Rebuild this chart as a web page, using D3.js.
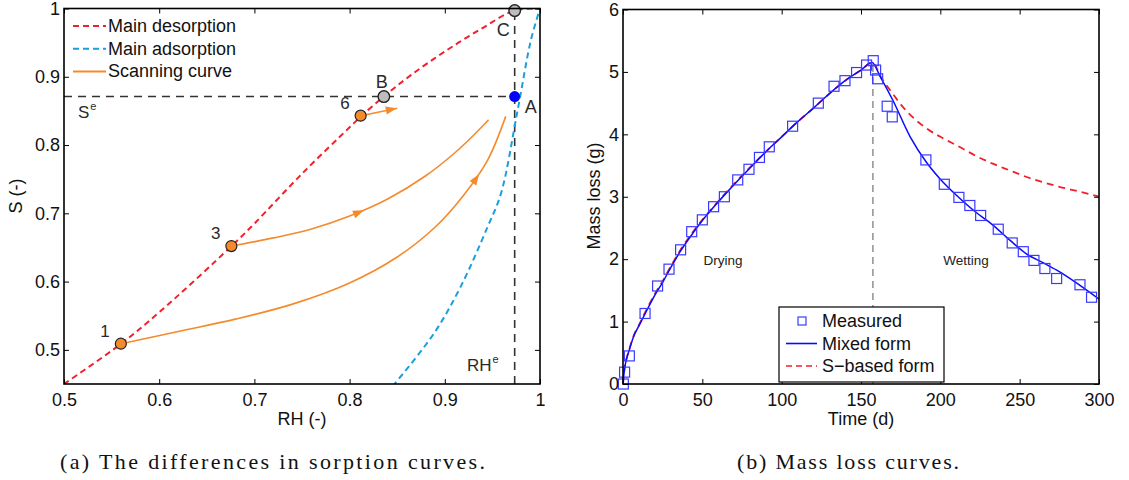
<!DOCTYPE html>
<html><head><meta charset="utf-8">
<script src="https://cdn.jsdelivr.net/npm/d3@7"></script>
<style>
body{margin:0;background:#fff;}
svg{display:block;}
</style></head>
<body>
<svg id="chart" width="1129" height="480" font-family="Liberation Sans, Arial, sans-serif"></svg>
<script>
// ---------- Panel (a) data ----------
const desorpRH = [0.5,0.56,0.6,0.676,0.7,0.75,0.8,0.812,0.836,0.864,0.9,0.938,0.9734,1.0];
const desorpS  = [0.45,0.509,0.555,0.652,0.685,0.758,0.826,0.842,0.871,0.902,0.937,0.970,0.997,1.0];
const adsorpRH = [0.845,0.8477,0.8888,0.9168,0.9449,0.959,0.9765,0.9905,1.0];
const adsorpS  = [0.447,0.451,0.5245,0.593,0.680,0.729,0.851,0.954,1.0];
const scan1RH = [0.56,0.62,0.68,0.74,0.80,0.85,0.89,0.92,0.945,0.964];
const scan1S  = [0.509,0.527,0.545,0.567,0.598,0.636,0.680,0.727,0.778,0.842];
const scan3RH = [0.676,0.72,0.76,0.80,0.84,0.88,0.91,0.93,0.946];
const scan3S  = [0.652,0.664,0.677,0.696,0.721,0.755,0.788,0.814,0.837];
const scan6RH = [0.812,0.850];
const scan6S  = [0.843,0.854];
const arrowRH = [0.936,0.815,0.850];
const orangePtsRH = [0.5597,0.6758,0.8116];
const orangePtsS  = [0.509,0.652,0.843];
const orangeLabels = ["1","3","6"];
const grayPtsRH = [0.836,0.9734];
const grayPtsS  = [0.871,0.997];
const eqRH = 0.9734, eqS = 0.871;
const rhTicks = [0.5,0.6,0.7,0.8,0.9,1.0];
const rhTickLabels = ["0.5","0.6","0.7","0.8","0.9","1"];
const sTicks = [0.5,0.6,0.7,0.8,0.9,1.0];
const sTickLabels = ["0.5","0.6","0.7","0.8","0.9","1"];
const legendA = ["Main desorption","Main adsorption","Scanning curve"];

// ---------- Panel (b) data ----------
const measT = [0.2,1,4,13.9,21.8,29,36.3,43.3,50,57.1,63.9,72.3,79.4,86,92.2,106.9,123.1,133,139.9,147.2,153.5,157.7,159.2,160.5,166.5,169.7,190.9,202.5,211.7,218.6,225.4,236.5,245.3,252.3,259,265.9,273.3,288,295.3];
const measM = [0,0.19,0.45,1.13,1.57,1.84,2.15,2.44,2.63,2.84,3.0,3.27,3.44,3.63,3.80,4.13,4.50,4.77,4.86,4.99,5.11,5.18,5.03,4.89,4.45,4.28,3.59,3.20,2.99,2.86,2.70,2.48,2.26,2.12,1.98,1.85,1.69,1.59,1.39];
const mixedT = [0,1,2,4,7,10,14,20,25,30,36,43,50,57,64,72,80,90,100,110,120,130,140,150,157,162,170,181,191,200,212,222,233,244,254,265,275,288,300];
const mixedM = [0,0.25,0.38,0.55,0.78,0.93,1.13,1.42,1.63,1.86,2.12,2.38,2.62,2.83,3.03,3.25,3.46,3.72,3.96,4.2,4.42,4.65,4.86,5.03,5.15,4.93,4.55,3.96,3.56,3.28,2.98,2.76,2.55,2.3,2.09,1.94,1.80,1.58,1.36];
const sbasedT = [0,1,2,4,7,10,14,20,25,30,36,43,50,57,64,72,80,90,100,110,120,130,140,150,157,163,170,177,185,191,200,212,222,233,244,254,265,275,288,300];
const sbasedM = [0,0.25,0.38,0.56,0.79,0.94,1.15,1.44,1.65,1.88,2.14,2.40,2.63,2.84,3.04,3.26,3.47,3.72,3.96,4.2,4.42,4.65,4.86,5.03,5.15,4.90,4.65,4.42,4.22,4.10,3.96,3.80,3.66,3.53,3.42,3.32,3.23,3.16,3.08,3.0];
const switchT = 157.5, switchTop = 5.15;
const tTicks = [0,50,100,150,200,250,300];
const tTickLabels = ["0","50","100","150","200","250","300"];
const mTicks = [0,1,2,3,4,5,6];
const mTickLabels = ["0","1","2","3","4","5","6"];
const legendB = ["Measured","Mixed form","S\u2212based form"];

const captions = ["(a)  The differences in sorption curves.","(b)  Mass loss curves."];

// ---------- colours ----------
const RED = "#f0202c", CYAN = "#1a9fdc", ORANGE = "#f58a2c", BLUE = "#0a0aff", SQ = "#3a3aff";

const svg = d3.select("#chart");
const FS = 18;

function drawAxes(g, x, y, xt, xtl, yt, ytl){
  const [x0,x1] = x.range(), [y0,y1] = y.range();
  const fmtX = d => xtl[xt.indexOf(d)], fmtY = d => ytl[yt.indexOf(d)];
  const ax = g.append("g").attr("transform",`translate(0,${y0})`)
    .call(d3.axisBottom(x).tickValues(xt).tickFormat(fmtX).tickSize(-5).tickSizeOuter(0).tickPadding(9));
  const axT = g.append("g").attr("transform",`translate(0,${y1})`)
    .call(d3.axisTop(x).tickValues(xt).tickFormat("").tickSize(-5).tickSizeOuter(0));
  const ay = g.append("g").attr("transform",`translate(${x0},0)`)
    .call(d3.axisLeft(y).tickValues(yt).tickFormat(fmtY).tickSize(-5).tickSizeOuter(0).tickPadding(4));
  const ayR = g.append("g").attr("transform",`translate(${x1},0)`)
    .call(d3.axisRight(y).tickValues(yt).tickFormat("").tickSize(-5).tickSizeOuter(0));
  [ax,axT,ay,ayR].forEach(a=>{
    a.select(".domain").remove();
    a.selectAll(".tick line").attr("stroke","#000").attr("stroke-width",1);
    a.selectAll("text").attr("font-size",FS).attr("fill","#111").attr("font-family","Liberation Sans, Arial, sans-serif");
  });
  g.append("rect").attr("x",x0).attr("y",y1).attr("width",x1-x0).attr("height",y0-y1)
    .attr("fill","none").attr("stroke","#000").attr("stroke-width",1.6);
}

// ================= Panel (a) =================
const xa = d3.scaleLinear().domain([0.5,1]).range([64,540]);
const ya = d3.scaleLinear().domain([0.45,1]).range([384,8.5]);
const ga = svg.append("g");
svg.append("defs").append("clipPath").attr("id","clipA").append("rect")
  .attr("x",64).attr("y",8.5).attr("width",476).attr("height",375.5);
const pa = ga.append("g").attr("clip-path","url(#clipA)");
const lineA = d3.line().x(d=>xa(d[0])).y(d=>ya(d[1])).curve(d3.curveCatmullRom.alpha(0.5));

// equilibrium dashed lines
pa.append("line").attr("x1",xa(0.5)).attr("x2",xa(eqRH)+8).attr("y1",ya(eqS)).attr("y2",ya(eqS))
  .attr("stroke","#333").attr("stroke-width",1.4).attr("stroke-dasharray","8,6");
pa.append("line").attr("x1",xa(eqRH)).attr("x2",xa(eqRH)).attr("y1",ya(0.45)).attr("y2",ya(0.997))
  .attr("stroke","#333").attr("stroke-width",1.6).attr("stroke-dasharray","8,6");

pa.append("path").attr("d",lineA(d3.zip(desorpRH,desorpS))).attr("fill","none")
  .attr("stroke",RED).attr("stroke-width",2).attr("stroke-dasharray","6,4");
pa.append("path").attr("d",lineA(d3.zip(adsorpRH,adsorpS))).attr("fill","none")
  .attr("stroke",CYAN).attr("stroke-width",2).attr("stroke-dasharray","6,4");

const scans = [d3.zip(scan1RH,scan1S), d3.zip(scan3RH,scan3S), d3.zip(scan6RH,scan6S)];
scans.forEach((s,i)=>{
  const p = pa.append("path").attr("d",lineA(s)).attr("fill","none")
    .attr("stroke",ORANGE).attr("stroke-width",1.6);
  const node = p.node(), L = node.getTotalLength();
  const tx = xa(arrowRH[i]);
  let best = 0, bd = 1e9;
  for(let l=0;l<=L;l+=0.5){ const pt = node.getPointAtLength(l); const dd=Math.abs(pt.x-tx); if(dd<bd){bd=dd;best=l;} }
  const tip = node.getPointAtLength(best);
  const back = node.getPointAtLength(Math.max(0,best-3));
  const ang = Math.atan2(tip.y-back.y, tip.x-back.x)*180/Math.PI;
  pa.append("path").attr("d","M0,0 L-11,-4 L-11,4 Z").attr("fill",ORANGE)
    .attr("transform",`translate(${tip.x},${tip.y}) rotate(${ang})`);
});

// markers
ga.selectAll(".op").data(d3.zip(orangePtsRH,orangePtsS)).join("circle")
  .attr("cx",d=>xa(d[0])).attr("cy",d=>ya(d[1])).attr("r",5.5)
  .attr("fill",ORANGE).attr("stroke","#222").attr("stroke-width",1.2);
ga.selectAll(".gp").data(d3.zip(grayPtsRH,grayPtsS)).join("circle")
  .attr("cx",d=>xa(d[0])).attr("cy",d=>ya(d[1])).attr("r",5.8)
  .attr("fill","#bdbdbd").attr("stroke","#222").attr("stroke-width",1.4);
ga.append("circle").attr("cx",xa(eqRH)).attr("cy",ya(eqS)).attr("r",5.5).attr("fill","#0000ff");

// point labels
const lab = (x,y,t,fs)=>ga.append("text").attr("x",x).attr("y",y).attr("font-size",fs||18).attr("fill","#2a2a2a").text(t);
orangeLabels.forEach((t,i)=>{
  lab(xa(orangePtsRH[i])-11,ya(orangePtsS[i])-7,t,17).attr("text-anchor","end");
});
lab(xa(eqRH)+10, ya(eqS)+16, "A");
lab(xa(grayPtsRH[0])-8, ya(grayPtsS[0])-9, "B");
lab(xa(grayPtsRH[1])-18, ya(grayPtsS[1])+25, "C");
const se = lab(78,118,"S",17); se.append("tspan").attr("font-size",11).attr("dy",-8).attr("dx",1).text("e");
const rhe = lab(467,371,"RH",17); rhe.append("tspan").attr("font-size",11).attr("dy",-8).attr("dx",1).text("e");

drawAxes(ga, xa, ya, rhTicks, rhTickLabels, sTicks, sTickLabels);
ga.append("text").attr("x",302).attr("y",425).attr("text-anchor","middle").attr("font-size",FS).attr("fill","#111").text("RH (-)");
ga.append("text").attr("transform","translate(22,196) rotate(-90)").attr("text-anchor","middle").attr("font-size",FS).attr("fill","#111").text("S (-)");

// legend (a)
const legStyles = [{c:RED,d:"6,4"},{c:CYAN,d:"6,4"},{c:ORANGE,d:null}];
legendA.forEach((t,i)=>{
  const yy = 26 + i*22.7;
  const l = ga.append("line").attr("x1",73).attr("x2",106).attr("y1",yy).attr("y2",yy)
    .attr("stroke",legStyles[i].c).attr("stroke-width",2);
  if(legStyles[i].d) l.attr("stroke-dasharray",legStyles[i].d);
  ga.append("text").attr("x",108).attr("y",yy+6).attr("font-size",FS).attr("fill","#111").text(t);
});

// ================= Panel (b) =================
const xb = d3.scaleLinear().domain([0,300]).range([623,1099]);
const yb = d3.scaleLinear().domain([0,6]).range([384,9.5]);
const gb = svg.append("g");
const lineB = d3.line().x(d=>xb(d[0])).y(d=>yb(d[1])).curve(d3.curveMonotoneX);

gb.append("line").attr("x1",xb(switchT)).attr("x2",xb(switchT)).attr("y1",yb(0)).attr("y2",yb(switchTop))
  .attr("stroke","#888").attr("stroke-width",1.4).attr("stroke-dasharray","7,5");
gb.append("path").attr("d",lineB(d3.zip(sbasedT,sbasedM))).attr("fill","none")
  .attr("stroke",RED).attr("stroke-width",1.8).attr("stroke-dasharray","7,5");
gb.append("path").attr("d",lineB(d3.zip(mixedT,mixedM))).attr("fill","none")
  .attr("stroke",BLUE).attr("stroke-width",1.5);
gb.selectAll(".sq").data(d3.zip(measT,measM)).join("rect")
  .attr("x",d=>xb(d[0])-5).attr("y",d=>yb(d[1])-5).attr("width",10).attr("height",10)
  .attr("fill","none").attr("stroke",SQ).attr("stroke-width",1.2);

gb.append("text").attr("x",723).attr("y",265).attr("text-anchor","middle").attr("font-size",13.5).attr("fill","#222").text("Drying");
gb.append("text").attr("x",966).attr("y",265).attr("text-anchor","middle").attr("font-size",13.5).attr("fill","#222").text("Wetting");

drawAxes(gb, xb, yb, tTicks, tTickLabels, mTicks, mTickLabels);
gb.append("text").attr("x",861).attr("y",425).attr("text-anchor","middle").attr("font-size",FS).attr("fill","#111").text("Time (d)");
gb.append("text").attr("transform","translate(600,196) rotate(-90)").attr("text-anchor","middle").attr("font-size",FS).attr("fill","#111").text("Mass loss (g)");

// legend (b)
gb.append("rect").attr("x",779).attr("y",307).attr("width",165).attr("height",75)
  .attr("fill","#fff").attr("stroke","#000").attr("stroke-width",1.2);
legendB.forEach((t,i)=>{
  const yy = 321 + i*22.5;
  if(i===0){
    gb.append("rect").attr("x",798).attr("y",yy-4).attr("width",8).attr("height",8)
      .attr("fill","none").attr("stroke",SQ).attr("stroke-width",1.2);
  } else {
    const l = gb.append("line").attr("x1",786).attr("x2",817).attr("y1",yy).attr("y2",yy)
      .attr("stroke",i===1?BLUE:RED).attr("stroke-width",1.6);
    if(i===2) l.attr("stroke-dasharray","6,4");
  }
  gb.append("text").attr("x",822).attr("y",yy+6).attr("font-size",FS).attr("fill","#111").text(t);
});

// captions
svg.append("text").attr("x",60).attr("y",469).attr("font-family","Liberation Serif, Times New Roman, serif").attr("font-size",22)
  .attr("textLength",425).attr("lengthAdjust","spacing").attr("fill","#111").text(captions[0]);
svg.append("text").attr("x",737).attr("y",469).attr("font-family","Liberation Serif, Times New Roman, serif").attr("font-size",22)
  .attr("textLength",222).attr("lengthAdjust","spacing").attr("fill","#111").text(captions[1]);
</script>
</body></html>
